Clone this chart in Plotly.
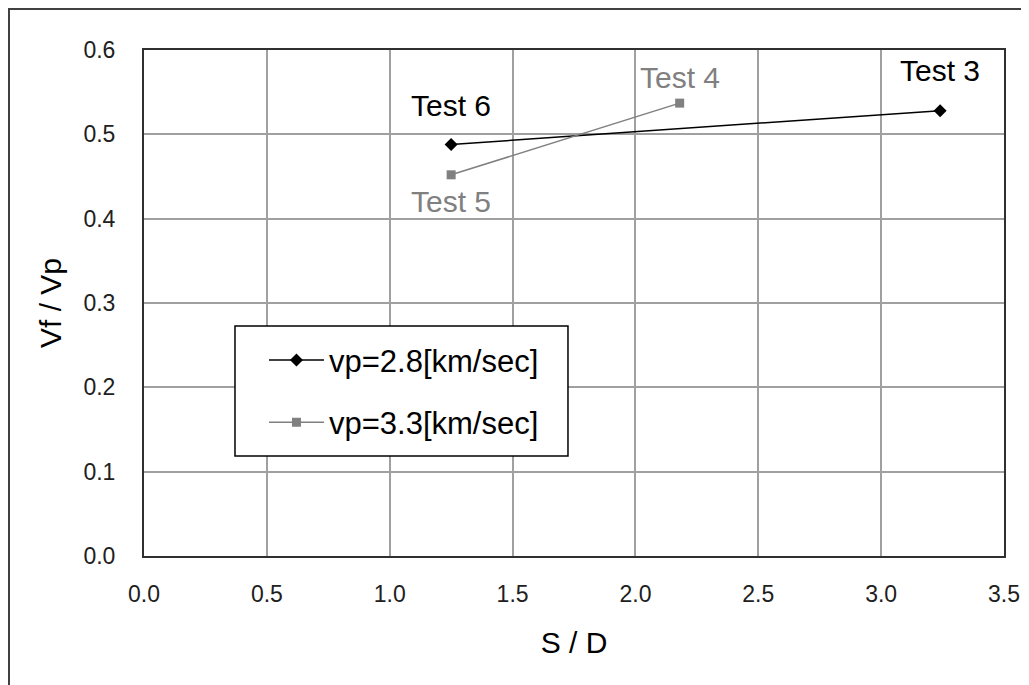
import plotly.graph_objects as go

# Data
s_d_28 = [1.25, 3.24]
vf_vp_28 = [0.488, 0.528]
labels_28 = ["Test 6", "Test 3"]

s_d_33 = [1.25, 2.18]
vf_vp_33 = [0.452, 0.537]
labels_33 = ["Test 5", "Test 4"]

series_names = ["vp=2.8[km/sec]", "vp=3.3[km/sec]"]
x_ticks = [0.0, 0.5, 1.0, 1.5, 2.0, 2.5, 3.0, 3.5]
y_ticks = [0.0, 0.1, 0.2, 0.3, 0.4, 0.5, 0.6]

FONT = "Arial, Liberation Sans, sans-serif"
BLACK = "#000000"
GRAY = "#808080"

fig = go.Figure()
fig.add_trace(go.Scatter(
    x=s_d_28, y=vf_vp_28, mode="lines+markers", name=series_names[0],
    line=dict(color=BLACK, width=1.5),
    marker=dict(symbol="diamond", size=10, color=BLACK),
    legendgroup="a",
))
fig.add_trace(go.Scatter(
    x=s_d_33, y=vf_vp_33, mode="lines+markers", name=series_names[1],
    line=dict(color=GRAY, width=1.5),
    marker=dict(symbol="square", size=9, color=GRAY),
    legendgroup="b",
))

# point labels
shifts_28 = [39, 40]
shifts_33 = [-27, 26]
for x, y, t, s in zip(s_d_28, vf_vp_28, labels_28, shifts_28):
    fig.add_annotation(x=x, y=y, text=t, showarrow=False, yshift=s,
                       font=dict(family=FONT, size=30, color=BLACK))
for x, y, t, s in zip(s_d_33, vf_vp_33, labels_33, shifts_33):
    fig.add_annotation(x=x, y=y, text=t, showarrow=False, yshift=s,
                       font=dict(family=FONT, size=30, color=GRAY))

# outer frame
fig.add_shape(type="rect", xref="paper", yref="paper",
              x0=-0.157, x1=1.06, y0=-0.30, y1=1.081,
              line=dict(color="#404040", width=2), layer="below")

# legend box
fig.add_shape(type="rect", xref="paper", yref="paper",
              x0=0.1058, x1=0.4930, y0=0.1976, y1=0.4545,
              line=dict(color=BLACK, width=1.5), fillcolor="white", layer="above")

axis_common = dict(
    showgrid=True, gridcolor="#a0a0a0", gridwidth=1.5,
    showline=True, linecolor="#303030", linewidth=2, mirror=True,
    ticks="", zeroline=False,
    tickfont=dict(family=FONT, size=23, color="#202020"),
)

fig.update_layout(
    width=1029, height=685,
    margin=dict(l=136, r=33, t=42, b=137),
    paper_bgcolor="white", plot_bgcolor="white",
    font=dict(family=FONT, color=BLACK),
    xaxis=dict(range=[0, 3.5], tickvals=x_ticks,
               ticktext=[f"{v:.1f}" for v in x_ticks],
               ticklabelstandoff=16,
               title=dict(text="S / D", font=dict(family=FONT, size=30), standoff=26),
               **axis_common),
    yaxis=dict(range=[0, 0.6], tickvals=y_ticks,
               ticktext=[f"{v:.1f}" for v in y_ticks],
               ticklabelstandoff=22,
               title=dict(text="Vf / Vp", font=dict(family=FONT, size=30), standoff=13),
               **axis_common),
    legend=dict(x=0.1395, y=0.44, xanchor="left", yanchor="top",
                bgcolor="rgba(0,0,0,0)", borderwidth=0,
                font=dict(family=FONT, size=31, color=BLACK),
                tracegroupgap=19, itemwidth=55),
    showlegend=True,
)

fig.write_html("out.html")
